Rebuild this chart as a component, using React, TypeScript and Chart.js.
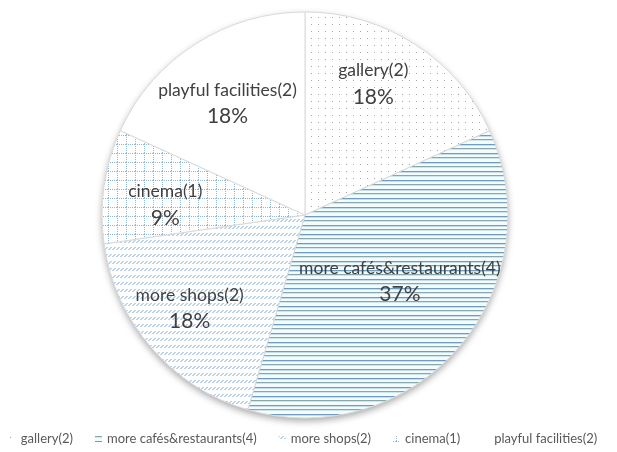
import React, { useEffect, useRef } from 'react';
import { Chart, registerables } from 'chart.js';

Chart.register(...registerables);

// ---- data ----
const categories = ['gallery(2)', 'more cafés&restaurants(4)', 'more shops(2)', 'cinema(1)', 'playful facilities(2)'];
const counts = [2, 4, 2, 1, 2];
const percentLabels = ['18%', '37%', '18%', '9%', '18%'];

// label placement (fraction of radius, angular shift in degrees)
const labelRadius = [0.73, 0.57, 0.73, 0.69, 0.67];
const labelAngleShift = [-5.3, -6, 2, -4, -2];

const FONT = 'Lato, "Open Sans", sans-serif';
const TEXT_COLOR = '#404040';

function makePattern(kind: string): CanvasPattern | string {
  const c = document.createElement('canvas');
  const ctx = c.getContext('2d')!;
  if (kind === 'dots') {
    c.width = 7; c.height = 7;
    ctx.fillStyle = '#ffffff'; ctx.fillRect(0, 0, 7, 7);
    ctx.fillStyle = '#a6a6a6'; ctx.fillRect(3, 3, 1, 1);
  } else if (kind === 'hlines') {
    c.width = 4; c.height = 9;
    const rows = ['#6e9cc2', '#c4def0', '#f4fbfd', '#f4fbfd', '#86a8ae', '#cfe6ea', '#f4fbfd', '#f4fbfd', '#f4fbfd'];
    rows.forEach((col, i) => { ctx.fillStyle = col; ctx.fillRect(0, i, 4, 1); });
  } else if (kind === 'slashes') {
    c.width = 8; c.height = 7;
    ctx.fillStyle = '#ffffff'; ctx.fillRect(0, 0, 8, 7);
    ctx.strokeStyle = '#76a9d6'; ctx.lineWidth = 1;
    for (const x of [0, 4]) {
      ctx.beginPath(); ctx.moveTo(x + 0.5, 5); ctx.lineTo(x + 3.5, 2); ctx.stroke();
    }
  } else if (kind === 'grid') {
    c.width = 9; c.height = 9;
    ctx.fillStyle = '#ffffff'; ctx.fillRect(0, 0, 9, 9);
    ctx.fillStyle = '#8fb8d8';
    for (let i = 0; i < 9; i += 2) { ctx.fillRect(i, 0, 1, 1); ctx.fillRect(0, i, 1, 1); }
  } else {
    return '#ffffff';
  }
  return ctx.createPattern(c, 'repeat')!;
}

const patternKinds = ['dots', 'hlines', 'slashes', 'grid', 'plain'];

export default function App() {
  const ref = useRef<HTMLCanvasElement>(null);

  useEffect(() => {
    const fills = patternKinds.map(makePattern);

    const shadowPlugin = {
      id: 'pieShadow',
      beforeDatasetsDraw(chart: any) {
        const arc = chart.getDatasetMeta(0).data[0];
        if (!arc) return;
        const ctx = chart.ctx;
        ctx.save();
        ctx.shadowColor = 'rgba(0,0,0,0.35)';
        ctx.shadowBlur = 7;
        ctx.shadowOffsetY = 3;
        ctx.fillStyle = '#ffffff';
        ctx.beginPath();
        ctx.arc(arc.x, arc.y, arc.outerRadius, 0, Math.PI * 2);
        ctx.fill();
        ctx.restore();
      },
    };

    const labelPlugin = {
      id: 'sliceLabels',
      afterDatasetsDraw(chart: any) {
        const ctx = chart.ctx;
        const meta = chart.getDatasetMeta(0);
        ctx.save();
        ctx.fillStyle = TEXT_COLOR;
        ctx.textAlign = 'center';
        ctx.textBaseline = 'middle';
        meta.data.forEach((arc: any, i: number) => {
          const mid = (arc.startAngle + arc.endAngle) / 2 + (labelAngleShift[i] * Math.PI) / 180;
          const r = arc.outerRadius * labelRadius[i];
          const cx = arc.x + Math.cos(mid) * r;
          const cy = arc.y + Math.sin(mid) * r;
          ctx.font = `17.5px ${FONT}`;
          ctx.fillText(categories[i], cx, cy - 13);
          ctx.font = `21px ${FONT}`;
          ctx.fillText(percentLabels[i], cx, cy + 13.5);
        });
        ctx.restore();
      },
    };

    const legendPlugin = {
      id: 'customLegend',
      afterDraw(chart: any) {
        const ctx = chart.ctx;
        ctx.save();
        ctx.font = `13px ${FONT}`;
        ctx.textBaseline = 'middle';
        ctx.textAlign = 'left';
        const box = 7, boxGap = 5, itemGap = 22;
        const widths = categories.map((t) => box + boxGap + ctx.measureText(t).width);
        const total = widths.reduce((a, b) => a + b, 0) + itemGap * (categories.length - 1);
        let x = 303 - total / 2;
        const y = 439;
        categories.forEach((t, i) => {
          ctx.fillStyle = fills[i] as any;
          ctx.fillRect(x, y - 3, box, 6);
          ctx.fillStyle = '#595959';
          ctx.fillText(t, x + box + boxGap, y);
          x += widths[i] + itemGap;
        });
        ctx.restore();
      },
    };

    const chart = new Chart(ref.current!, {
      type: 'pie',
      data: {
        labels: categories,
        datasets: [
          {
            data: counts,
            backgroundColor: fills as any,
            borderColor: '#d9d9d9',
            borderWidth: 1,
            hoverOffset: 0,
            offset: 0,
          },
        ],
      },
      options: {
        responsive: false,
        animation: false,
        radius: 203,
        layout: { padding: { top: 12, bottom: 34, left: 0, right: 7 } },
        plugins: {
          legend: { display: false },
          tooltip: { enabled: false },
        },
      } as any,
      plugins: [shadowPlugin, labelPlugin, legendPlugin],
    });
    return () => chart.destroy();
  }, []);

  return (
    <div style={{ position: 'fixed', left: 0, top: 0, width: 617, height: 452, background: '#ffffff' }}>
      <canvas ref={ref} width={617} height={452} style={{ display: 'block' }} />
    </div>
  );
}
